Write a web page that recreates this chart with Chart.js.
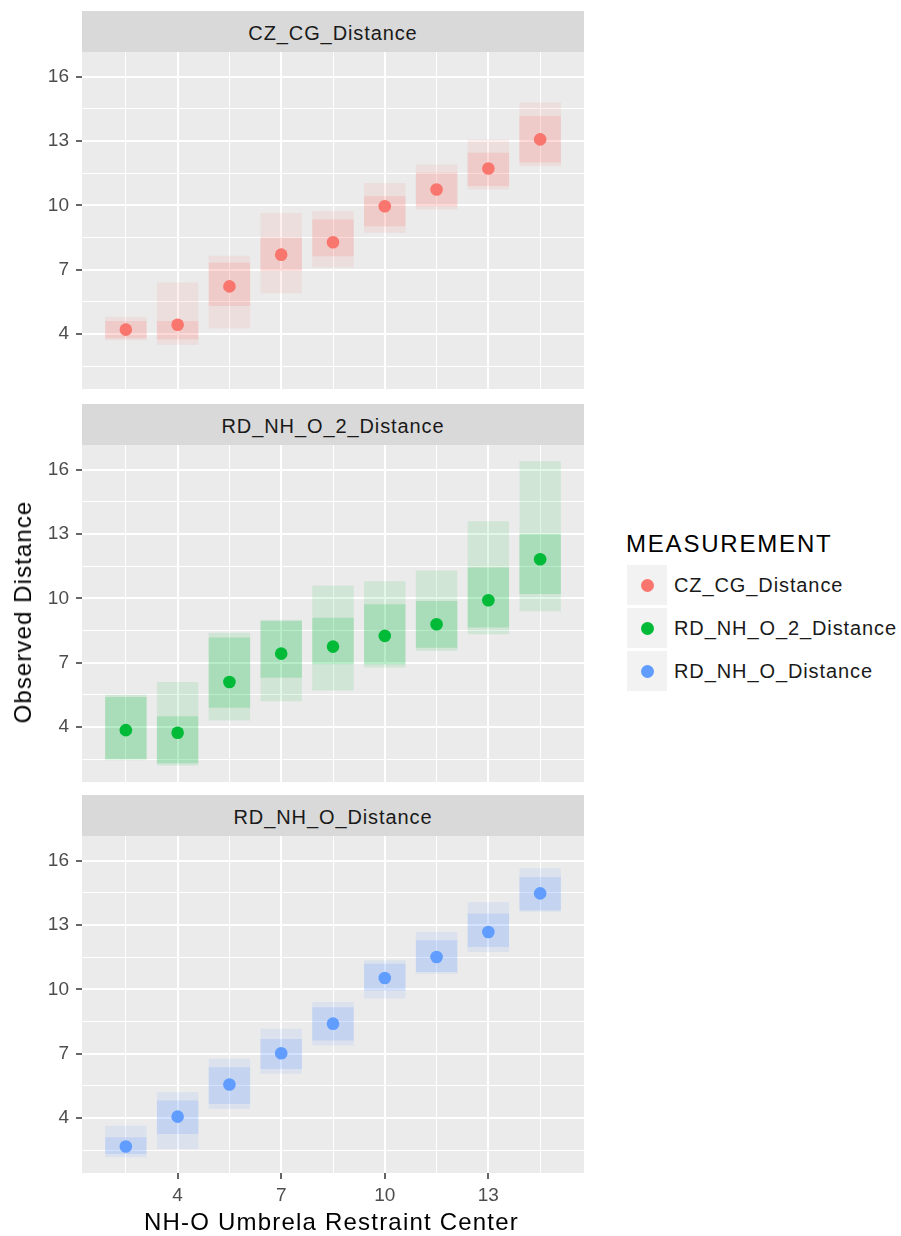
<!DOCTYPE html>
<html>
<head>
<meta charset="utf-8">
<script src="https://cdn.jsdelivr.net/npm/chart.js@4.4.1/dist/chart.umd.min.js"></script>
<style>
  html, body { margin: 0; padding: 0; background: #ffffff; }
  body { width: 901px; height: 1236px; position: relative; overflow: hidden;
         font-family: "Liberation Sans", Arial, Helvetica, sans-serif; }
  .strip { position: absolute; left: 82px; width: 502px; height: 41px; background: #d9d9d9; }
  .strip span { position: absolute; left: 0; right: 0; top: 12.4px; text-align: center;
                font-size: 20px; line-height: 1; letter-spacing: 0.9px; color: #1a1a1a; }
  canvas { position: absolute; left: 0; }
  .txt { position: absolute; line-height: 1; white-space: nowrap; color: #000; }
  .key { position: absolute; left: 627px; width: 40px; height: 40px; background: #f2f2f2; }
  .key i { position: absolute; left: 13.5px; top: 13.5px; width: 13px; height: 13px; border-radius: 50%; }
  .klab { position: absolute; left: 674px; font-size: 20px; line-height: 1; letter-spacing: 0.9px; color: #1a1a1a; white-space: nowrap; }
</style>
</head>
<body>

<div class="strip" style="top:11px"><span>CZ_CG_Distance</span></div>
<canvas id="p1" width="584" height="337"></canvas>

<div class="strip" style="top:403.5px"><span>RD_NH_O_2_Distance</span></div>
<canvas id="p2" width="584" height="337"></canvas>

<div class="strip" style="top:795px"><span>RD_NH_O_Distance</span></div>
<canvas id="p3" width="584" height="377"></canvas>

<div class="txt" id="ytitle" style="left:22.5px; top:611.7px; font-size:24px; letter-spacing:1.1px; transform:translate(-50%,-50%) rotate(-90deg);">Observed Distance</div>
<div class="txt" style="left:331.5px; top:1209.5px; font-size:24px; letter-spacing:1.2px; transform:translateX(-50%);">NH-O Umbrela Restraint Center</div>

<div class="txt" style="left:626px; top:532.2px; font-size:24px; letter-spacing:1.8px;">MEASUREMENT</div>
<div class="key" style="top:565px"><i style="background:#F8766D"></i></div>
<div class="klab" style="top:575.2px">CZ_CG_Distance</div>
<div class="key" style="top:608px"><i style="background:#00BA38"></i></div>
<div class="klab" style="top:618.2px">RD_NH_O_2_Distance</div>
<div class="key" style="top:651px"><i style="background:#619CFF"></i></div>
<div class="klab" style="top:661.2px">RD_NH_O_Distance</div>

<script>
// Restraint centres (x positions of every group)
const centers = [2.5, 4, 5.5, 7, 8.5, 10, 11.5, 13, 14.5];

// Axis breaks
const xMajor = [4, 7, 10, 13];
const xMinor = [2.5, 5.5, 8.5, 11.5, 14.5];
const yMajor = [4, 7, 10, 13, 16];
const yMinor = [2.5, 5.5, 8.5, 11.5, 14.5];

// CZ_CG_Distance: group means, dense band and full spread of the jittered samples
const czcgMean     = [4.20, 4.43, 6.22, 7.70, 8.28, 9.96, 10.74, 11.72, 13.08];
const czcgCoreLow  = [3.80, 3.75, 5.30, 6.95, 7.63, 9.03, 9.96, 10.90, 12.00];
const czcgCoreHigh = [4.60, 4.60, 7.32, 8.49, 9.34, 10.43, 11.52, 12.46, 14.17];
const czcgLow      = [3.70, 3.50, 4.25, 5.90, 7.10, 8.72, 9.81, 10.74, 11.83];
const czcgHigh     = [4.80, 6.40, 7.65, 9.65, 9.73, 11.05, 11.91, 13.08, 14.80];

// RD_NH_O_2_Distance
const nho2Mean     = [3.85, 3.73, 6.10, 7.42, 7.75, 8.25, 8.79, 9.91, 11.83];
const nho2CoreLow  = [2.50, 2.30, 4.90, 6.30, 6.93, 6.93, 7.70, 8.64, 10.20];
const nho2CoreHigh = [5.40, 4.50, 8.17, 8.95, 9.10, 9.73, 9.88, 11.44, 13.00];
const nho2Low      = [2.45, 2.20, 4.30, 5.20, 5.70, 6.77, 7.55, 8.33, 9.40];
const nho2High     = [5.50, 6.10, 8.40, 9.00, 10.60, 10.80, 11.30, 13.60, 16.40];

// RD_NH_O_Distance
const nhoMean      = [2.67, 4.06, 5.56, 7.02, 8.40, 10.53, 11.51, 12.68, 14.48];
const nhoCoreLow   = [2.32, 3.25, 4.65, 6.29, 7.62, 9.95, 10.81, 11.98, 13.70];
const nhoCoreHigh  = [3.10, 4.81, 6.37, 7.69, 9.17, 11.20, 12.29, 13.54, 15.25];
const nhoLow       = [2.16, 2.55, 4.42, 6.06, 7.38, 9.57, 10.73, 11.75, 13.62];
const nhoHigh      = [3.64, 5.20, 6.76, 8.16, 9.41, 11.36, 12.68, 14.08, 15.65];

const X_MIN = 1.23, X_MAX = 15.77;
const Y_MIN = 1.43, Y_MAX = 17.16;
const FONT = '"Liberation Sans", Arial, Helvetica, sans-serif';

const panelBackground = {
  id: 'panelBackground',
  beforeDraw(chart) {
    const a = chart.chartArea, ctx = chart.ctx;
    ctx.save();
    ctx.fillStyle = '#ebebeb';
    ctx.fillRect(a.left, a.top, a.right - a.left, a.bottom - a.top);
    ctx.restore();
  }
};

function breaks(major, minor) {
  return [...major, ...minor].sort((a, b) => a - b).map(v => ({ value: v }));
}

function gridOpts(major, showTicks) {
  const isMajor = c => c && c.tick && major.includes(c.tick.value);
  return {
    color: '#ffffff',
    lineWidth: c => isMajor(c) ? 2 : 1,
    drawTicks: showTicks,
    tickLength: 6,
    tickWidth: 1.5,
    tickColor: c => isMajor(c) ? '#333333' : 'rgba(0,0,0,0)'
  };
}

function rgba(hex, a) {
  const n = parseInt(hex.slice(1), 16);
  return `rgba(${(n >> 16) & 255},${(n >> 8) & 255},${n & 255},${a})`;
}

function makePanel(id, top, color, mean, coreLow, coreHigh, low, high, showX) {
  const canvas = document.getElementById(id);
  canvas.style.top = top + 'px';
  const span = (lo, hi) => centers.map((x, i) => ({ x: x, y: [lo[i], hi[i]] }));
  new Chart(canvas, {
    type: 'bar',
    data: {
      datasets: [
        { type: 'scatter', data: centers.map((x, i) => ({ x: x, y: mean[i] })),
          backgroundColor: color, borderColor: color, pointRadius: 6.3, pointBorderWidth: 0, order: 0 },
        { data: span(coreLow, coreHigh), backgroundColor: rgba(color, 0.19), borderWidth: 0,
          grouped: false, barPercentage: 0.8, categoryPercentage: 1, order: 1 },
        { data: span(low, high), backgroundColor: rgba(color, 0.11), borderWidth: 0,
          grouped: false, barPercentage: 0.8, categoryPercentage: 1, order: 2 }
      ]
    },
    options: {
      responsive: false,
      animation: false,
      events: [],
      layout: { padding: 0, autoPadding: false },
      plugins: { legend: { display: false }, tooltip: { enabled: false } },
      scales: {
        x: {
          type: 'linear', min: X_MIN, max: X_MAX, bounds: 'data', offset: false,
          afterBuildTicks: s => { s.ticks = breaks(xMajor, xMinor); },
          afterFit: s => { s.height = showX ? 40 : 0; s.paddingLeft = 0; s.paddingRight = 0; },
          border: { display: false },
          grid: Object.assign(gridOpts(xMajor, showX), { offset: false }),
          ticks: {
            display: showX, autoSkip: false, maxRotation: 0, padding: 5,
            color: '#4d4d4d', font: { family: FONT, size: 19 },
            callback: v => xMajor.includes(v) ? String(v) : ''
          }
        },
        y: {
          type: 'linear', min: Y_MIN, max: Y_MAX, bounds: 'data',
          afterBuildTicks: s => { s.ticks = breaks(yMajor, yMinor); },
          afterFit: s => { s.width = 82; s.paddingTop = 0; s.paddingBottom = 0; },
          border: { display: false },
          grid: gridOpts(yMajor, true),
          ticks: {
            autoSkip: false, padding: 7,
            color: '#4d4d4d', font: { family: FONT, size: 19 },
            callback: v => yMajor.includes(v) ? String(v) : ''
          }
        }
      }
    },
    plugins: [panelBackground]
  });
}

makePanel('p1', 52, '#F8766D', czcgMean, czcgCoreLow, czcgCoreHigh, czcgLow, czcgHigh, false);
makePanel('p2', 444.5, '#00BA38', nho2Mean, nho2CoreLow, nho2CoreHigh, nho2Low, nho2High, false);
makePanel('p3', 836, '#619CFF', nhoMean, nhoCoreLow, nhoCoreHigh, nhoLow, nhoHigh, true);
</script>
</body>
</html>
